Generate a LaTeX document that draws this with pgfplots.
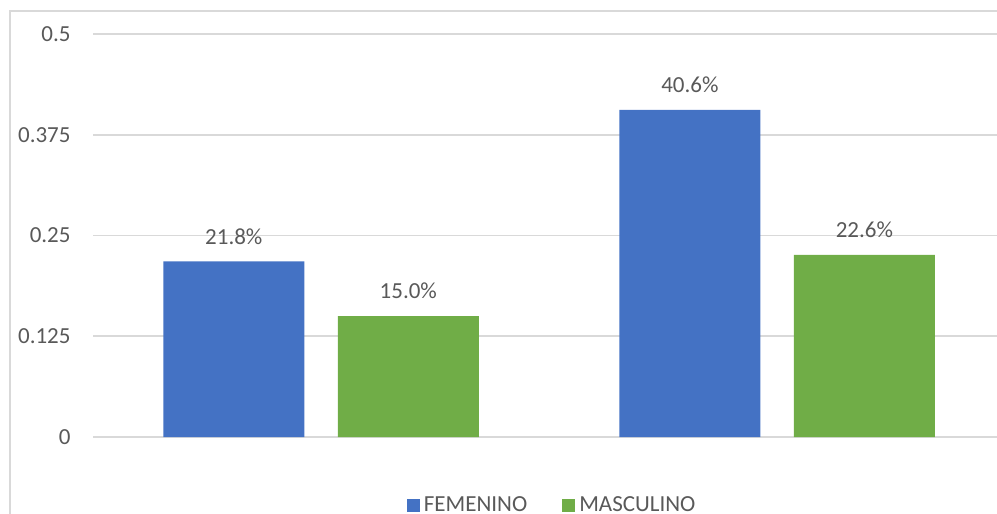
\documentclass[border=0pt]{standalone}
\usepackage{pgfplots}
\pgfplotsset{compat=1.18}
\usepackage{fontspec}
\setmainfont{Carlito}
\definecolor{cblue}{HTML}{4472C4}
\definecolor{cgreen}{HTML}{70AD47}
\definecolor{ctext}{HTML}{595959}
\definecolor{cgrid}{HTML}{D9D9D9}
\begin{document}
\begin{tikzpicture}
\clip (-46.5bp,-38.5bp) rectangle (452bp,218.5bp);
\useasboundingbox (-46.5bp,-38.5bp) rectangle (452bp,218.5bp);
\draw[cgrid, line width=0.8bp] (-41.5bp,-60bp) -- (-41.5bp,213bp) -- (480bp,213bp);
\begin{axis}[
  at={(0,0)}, anchor=south west,
  scale only axis,
  width=452bp, height=201.5bp,
  xmin=-0.5, xmax=1.482,
  ymin=0, ymax=0.5,
  ybar=16.75bp, bar width=70.5bp,
  axis line style={draw=none},
  xtick=\empty,
  ytick={0,0.125,0.25,0.375,0.5},
  major tick length=0pt,
  ymajorgrids,
  grid style={cgrid, line width=0.8bp},
  font=\fontsize{11.5bp}{14bp}\selectfont,
  yticklabel style={text=ctext, xshift=-7.7bp,
    /pgf/number format/fixed, /pgf/number format/precision=3,
    /pgf/number format/assume math mode=true},
  point meta=explicit symbolic,
  nodes near coords,
  nodes near coords style={text=ctext, font=\fontsize{11.5bp}{14bp}\selectfont, yshift=5bp},
  legend columns=2,
  legend style={draw=none, fill=none, at={(0.509,-0.169)}, anchor=center,
    font=\fontsize{11.5bp}{14bp}\selectfont, text=ctext,
    /tikz/every even column/.append style={column sep=15.5bp}},
  legend image code/.code={\fill[#1] (0bp,-3.25bp) rectangle (6.5bp,3.25bp);},
]
\addplot[fill=cblue, draw=none] coordinates {(0,0.218) [21.8\%] (1,0.406) [40.6\%]};
\addplot[fill=cgreen, draw=none] coordinates {(0,0.150) [15.0\%] (1,0.226) [22.6\%]};
\legend{FEMENINO, MASCULINO}
\end{axis}
\end{tikzpicture}
\end{document}
